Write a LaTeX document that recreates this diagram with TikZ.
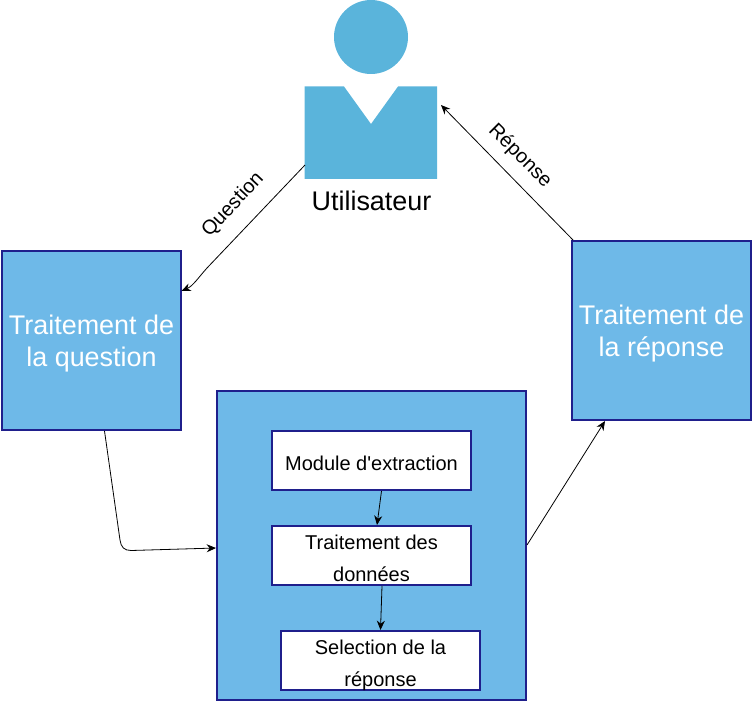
\documentclass[tikz,border=0pt]{standalone}
\usepackage{fontspec}
\setmainfont{Liberation Sans}
\usetikzlibrary{arrows.meta}
\definecolor{personblue}{HTML}{5AB4DB}
\definecolor{boxblue}{HTML}{6EB9E8}
\definecolor{boxedge}{HTML}{1F1F8C}
\newcommand{\liftbig}{\rule{0pt}{19.5pt}}
\newcommand{\liftsmall}{\rule{0pt}{15.5pt}}
\newcommand{\liftselect}{\rule{0pt}{14.5pt}}
\tikzset{
  x=0.75pt,y=-0.75pt,
  block/.style={draw=boxedge,line width=1.5pt,fill=boxblue,inner sep=0pt,outer sep=0pt,minimum width=134.25pt,minimum height=134.25pt,align=center,text=white,font=\fontsize{20.2pt}{24pt}\selectfont},
  whitebox/.style={draw=boxedge,line width=1.5pt,fill=white,inner sep=0pt,outer sep=0pt,minimum width=149.25pt,minimum height=44.25pt,align=center,text=black,font=\fontsize{15pt}{24pt}\selectfont},
  conn/.style={draw=black,line width=0.6pt,-{Stealth[length=7pt,width=6pt]}},
  lab/.style={inner sep=0pt,text=black,font=\fontsize{15pt}{18pt}\selectfont},
}
\begin{document}
\begin{tikzpicture}
\useasboundingbox (0,0) rectangle (752,702);
\fill[personblue] (371,37) circle (37);
\fill[personblue] (304.5,86.5) -- (344,86.5) -- (371,124) -- (398,86.5) -- (437,86.5) -- (437,179) -- (304.5,179) -- cycle;
\node[font=\fontsize{20.2pt}{24pt}\selectfont,inner sep=0pt] (user) at (371.5,200.5) {Utilisateur};
\node[block] (question) at (91.5,340.5) {\liftbig Traitement de\\la question};
\node[block,minimum width=231.75pt,minimum height=231.75pt] (core) at (371.5,545.5) {};
\node[block] (answer) at (661.5,330.5) {\liftbig Traitement de\\la réponse};
\node[whitebox] (module) at (371.5,460.5) {\liftsmall Module d\textquotesingle extraction};
\node[whitebox] (data) at (371.5,555.5) {\liftsmall Traitement des\\données};
\node[whitebox] (select) at (380.5,660.5) {\liftselect Selection de la\\\smash{réponse}};
\coordinate (userL) at (305,165);
\coordinate (userR) at (441,105);
\coordinate (qIn) at (181.5,291);
\coordinate (qOut) at (104.5,431);
\coordinate (coreIn) at (216,548);
\coordinate (coreOut) at (527,545);
\coordinate (aIn) at (605,421);
\coordinate (aOut) at (573,240);
\coordinate (mOut) at (381.5,491);
\coordinate (dIn) at (377,525);
\coordinate (dOut) at (382,586);
\coordinate (sIn) at (380.5,630);
\draw[conn] (userL) -- (207,268) .. controls (198,278) and (193,286) .. (qIn);
\draw[conn] (qOut) -- (120,540) .. controls (121,547) and (124,550.5) .. (131,550.5) -- (coreIn);
\draw[conn] (coreOut) -- (aIn);
\draw[conn] (aOut) -- (userR);
\draw[conn] (mOut) -- (dIn);
\draw[conn] (dOut) -- (sIn);
\node[lab,rotate=47] (qlabel) at (233,205) {Question};
\node[lab,rotate=-45] (rlabel) at (520,156) {Réponse};
\end{tikzpicture}
\end{document}
